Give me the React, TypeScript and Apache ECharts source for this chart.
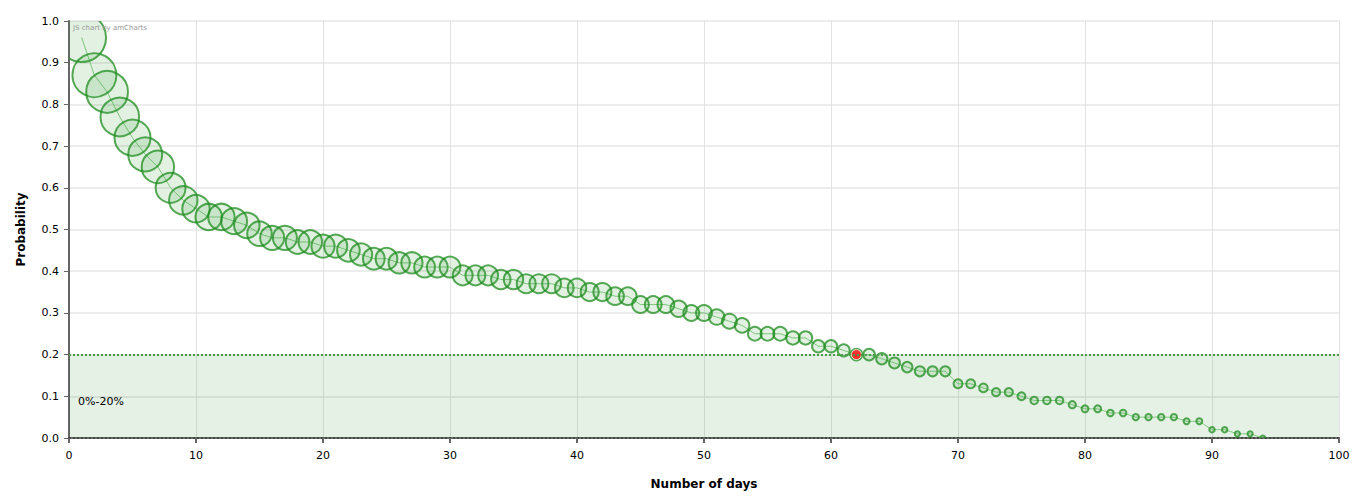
import React, { useEffect, useRef } from "react";
import * as echarts from "echarts";

const days: number[] = [
  1, 2, 3, 4, 5, 6, 7, 8, 9, 10, 11, 12, 13, 14, 15, 16, 17, 18, 19, 20,
  21, 22, 23, 24, 25, 26, 27, 28, 29, 30, 31, 32, 33, 34, 35, 36, 37, 38, 39, 40,
  41, 42, 43, 44, 45, 46, 47, 48, 49, 50, 51, 52, 53, 54, 55, 56, 57, 58, 59, 60,
  61, 62, 63, 64, 65, 66, 67, 68, 69, 70, 71, 72, 73, 74, 75, 76, 77, 78, 79, 80,
  81, 82, 83, 84, 85, 86, 87, 88, 89, 90, 91, 92, 93, 94,
];

const probability: number[] = [
  0.96, 0.87, 0.83, 0.77, 0.72, 0.68, 0.65, 0.6, 0.57, 0.55,
  0.53, 0.53, 0.52, 0.51, 0.49, 0.48, 0.48, 0.47, 0.47, 0.46,
  0.46, 0.45, 0.44, 0.43, 0.43, 0.42, 0.42, 0.41, 0.41, 0.41,
  0.39, 0.39, 0.39, 0.38, 0.38, 0.37, 0.37, 0.37, 0.36, 0.36,
  0.35, 0.35, 0.34, 0.34, 0.32, 0.32, 0.32, 0.31, 0.3, 0.3,
  0.29, 0.28, 0.27, 0.25, 0.25, 0.25, 0.24, 0.24, 0.22, 0.22,
  0.21, 0.2, 0.2, 0.19, 0.18, 0.17, 0.16, 0.16, 0.16, 0.13,
  0.13, 0.12, 0.11, 0.11, 0.1, 0.09, 0.09, 0.09, 0.08, 0.07,
  0.07, 0.06, 0.06, 0.05, 0.05, 0.05, 0.05, 0.04, 0.04, 0.02,
  0.02, 0.01, 0.01, 0.0,
];

const highlightDay = 62;
const bandRange: [number, number] = [0, 0.2];
const bandLabel = "0%-20%";
const xTitle = "Number of days";
const yTitle = "Probability";
const creditText = "JS chart by amCharts";

const FONT = "Verdana, 'DejaVu Sans', sans-serif";

export default function App() {
  const ref = useRef<HTMLDivElement>(null);

  useEffect(() => {
    document.body.style.margin = "0";
    if (!ref.current) return;
    const chart = echarts.init(ref.current, undefined, { renderer: "svg" });

    const points = days.map((d, i) => [d, probability[i]]);
    const hiIdx = days.indexOf(highlightDay);
    const hiPoint = [days[hiIdx], probability[hiIdx]];

    const bubbleRadius = (p: number) => 2.5 + 23 * Math.pow(p, 1.2);

    chart.setOption({
      animation: false,
      textStyle: { fontFamily: FONT },
      grid: { left: 69, right: 21, top: 21, bottom: 62, containLabel: false },
      xAxis: {
        type: "value",
        min: 0,
        max: 100,
        interval: 10,
        name: xTitle,
        nameLocation: "middle",
        nameGap: 40,
        nameTextStyle: { fontWeight: "bold", fontSize: 12, color: "#000", fontFamily: FONT },
        axisLine: { show: true, onZero: false, lineStyle: { color: "#444", width: 2, type: "dotted" } },
        axisTick: { show: true, length: 5, lineStyle: { color: "#666", width: 2 } },
        axisLabel: { color: "#000", fontSize: 11, margin: 12, fontFamily: FONT },
        splitLine: { show: true, lineStyle: { color: "#e2e2e2", width: 1 } },
      },
      yAxis: {
        type: "value",
        min: 0,
        max: 1,
        interval: 0.1,
        name: yTitle,
        nameLocation: "middle",
        nameGap: 42,
        nameTextStyle: { fontWeight: "bold", fontSize: 12, color: "#000", fontFamily: FONT },
        axisLine: { show: true, lineStyle: { color: "#666", width: 2 } },
        axisTick: { show: true, length: 5, lineStyle: { color: "#666", width: 1 } },
        axisLabel: {
          color: "#000",
          fontSize: 11,
          margin: 10,
          fontFamily: FONT,
          formatter: (v: number) => v.toFixed(1),
        },
        splitLine: { show: true, lineStyle: { color: "#e6e6e6", width: 1.5 } },
      },
      graphic: [
        {
          type: "text",
          left: 73,
          top: 24,
          style: { text: creditText, fill: "#999", fontSize: 7, fontFamily: FONT },
          z: 100,
        },
      ],
      series: [
        {
          type: "line",
          data: points,
          showSymbol: false,
          symbol: "none",
          lineStyle: { color: "#6cbf6c", width: 1, opacity: 0.8 },
          z: 2,
          markArea: {
            silent: true,
            itemStyle: { color: "rgba(0,120,0,0.1)" },
            label: {
              show: true,
              position: "insideLeft",
              offset: [4, 5],
              color: "#000",
              fontSize: 11,
              fontFamily: FONT,
            },
            data: [[{ yAxis: bandRange[0], name: bandLabel }, { yAxis: bandRange[1] }]],
          },
          markLine: {
            silent: true,
            symbol: "none",
            label: { show: false },
            lineStyle: { color: "#4a9e4a", type: "dotted", width: 2 },
            data: [{ yAxis: bandRange[1] }],
          },
        },
        {
          type: "custom",
          data: points,
          clip: true,
          z: 3,
          renderItem: (params: any, api: any) => {
            const x = api.value(0);
            const y = api.value(1);
            const c = api.coord([x, y]);
            return {
              type: "circle",
              shape: { cx: c[0], cy: c[1], r: bubbleRadius(y) },
              style: {
                fill: "rgba(60,160,60,0.15)",
                stroke: "rgba(30,140,30,0.75)",
                lineWidth: 2,
              },
            };
          },
        },
        {
          type: "scatter",
          data: [hiPoint],
          symbol: "circle",
          symbolSize: 10,
          itemStyle: { color: "#ff0000", borderColor: "#ffffff", borderWidth: 1 },
          z: 4,
        },
      ],
    });

    return () => {
      chart.dispose();
    };
  }, []);

  return <div ref={ref} style={{ width: 1360, height: 500 }} />;
}
